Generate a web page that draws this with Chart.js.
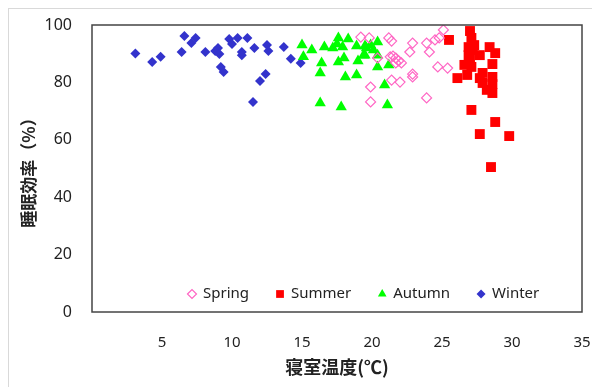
<!DOCTYPE html>
<html>
<head>
<meta charset="utf-8">
<script src="https://cdn.jsdelivr.net/npm/chart.js@4/dist/chart.umd.min.js"></script>
<style>
  body { margin: 0; background: #fff; }
  #wrap { position: relative; width: 592px; height: 387px; overflow: hidden; }
  #frame { position: absolute; left: 8px; top: 8px; width: 700px; height: 500px; border: 1px solid #d9d9d9; }
  #chart { position: absolute; left: 0; top: 0; }
</style>
</head>
<body>
<div id="wrap">
  <div id="frame"></div>
  <canvas id="chart" width="592" height="387"></canvas>
</div>
<script>
// 寝室温度 (x) と 睡眠効率 (y), 季節ごと
var springX = [19.2, 19.8, 21.2, 21.4, 22.9, 22.7, 21.3, 21.5, 21.7, 21.9, 22.1, 21.7, 20.4, 23.9, 24.1, 24.5, 24.8, 25.1, 24.7, 25.4, 22.9, 22.9, 22.0, 21.4, 19.9, 19.9, 23.9];
var springY = [95.8, 95.5, 95.5, 94.4, 93.7, 90.6, 88.9, 89.2, 88.5, 87.5, 86.8, 86.8, 88.5, 93.7, 90.6, 94.8, 95.5, 98.3, 85.4, 85.0, 82.9, 81.9, 80.1, 80.8, 78.4, 73.2, 74.6];

var summerX = [25.5, 27.0, 27.1, 26.9, 26.9, 27.0, 27.7, 28.4, 28.8, 28.6, 26.6, 27.1, 26.8, 26.1, 27.7, 28.6, 27.9, 28.2, 28.6, 28.6, 27.1, 28.8, 27.7, 29.8, 28.5, 27.2, 27.3, 27.9];
var summerY = [94.8, 97.9, 95.5, 92.3, 89.5, 88.5, 89.5, 92.3, 90.2, 86.4, 86.1, 85.4, 82.6, 81.5, 81.5, 81.9, 79.8, 77.4, 76.3, 79.4, 70.4, 66.2, 62.0, 61.3, 50.5, 91.3, 93.0, 83.3];

var autumnX = [15.0, 15.7, 15.1, 16.6, 16.4, 16.3, 17.2, 17.6, 17.6, 17.9, 18.3, 18.0, 18.1, 18.9, 18.9, 19.0, 19.4, 19.6, 19.5, 19.5, 19.9, 20.1, 20.4, 20.4, 20.4, 21.2, 20.9, 21.1, 16.3, 17.8, 17.5];
var autumnY = [93.0, 91.3, 88.9, 92.3, 86.8, 83.3, 92.0, 95.5, 87.1, 92.3, 95.1, 88.5, 81.9, 82.6, 92.7, 87.5, 89.5, 92.0, 92.7, 89.5, 93.0, 91.3, 94.1, 89.5, 85.4, 86.1, 79.1, 72.1, 72.8, 71.4, 93.4];

var winterX = [3.1, 4.3, 4.9, 6.6, 6.4, 7.1, 7.4, 8.1, 8.8, 9.0, 9.1, 9.2, 9.4, 9.8, 10.0, 10.4, 11.1, 10.7, 10.7, 11.6, 12.0, 12.4, 11.5, 12.5, 12.6, 13.7, 14.2, 14.9];
var winterY = [90.1, 87.1, 88.9, 96.2, 90.6, 93.7, 95.5, 90.6, 90.9, 92.0, 89.9, 85.4, 83.6, 95.1, 93.4, 95.5, 95.5, 90.6, 89.5, 92.0, 80.5, 82.9, 73.2, 93.0, 90.9, 92.3, 88.2, 86.8];

var xTicks = [0, 5, 10, 15, 20, 25, 30, 35];
var yTicks = [0, 20, 40, 60, 80, 100];

function pairs(xs, ys) {
  var out = [];
  for (var i = 0; i < xs.length; i++) out.push({x: xs[i], y: ys[i]});
  return out;
}

var datasets = [
  { label: 'Spring', data: pairs(springX, springY), pointStyle: 'rectRot', pointRadius: 5,
    backgroundColor: 'rgba(0,0,0,0)', borderColor: '#ff66c4', borderWidth: 1.2 },
  { label: 'Summer', data: pairs(summerX, summerY), pointStyle: 'rect', pointRadius: 7,
    backgroundColor: '#ff0000', borderColor: '#ff0000', borderWidth: 0 },
  { label: 'Autumn', data: pairs(autumnX, autumnY), pointStyle: 'triangle', pointRadius: 6.5,
    backgroundColor: '#00ff00', borderColor: '#00ff00', borderWidth: 0 },
  { label: 'Winter', data: pairs(winterX, winterY), pointStyle: 'rectRot', pointRadius: 5,
    backgroundColor: '#3333cc', borderColor: '#3333cc', borderWidth: 0 }
];

// plot frame + legend drawn inside the plot area
var framePlugin = {
  id: 'framePlugin',
  afterDatasetsDraw: function(chart) {
    var ctx = chart.ctx, a = chart.chartArea;
    ctx.save();
    ctx.strokeStyle = '#444';
    ctx.lineWidth = 1.5;
    ctx.strokeRect(a.left, a.top, a.right - a.left, a.bottom - a.top);
    ctx.restore();

    var x = 187, y = a.bottom - 18;
    chart.data.datasets.forEach(function(ds) {
      ctx.save();
      ctx.font = '15px "Noto Sans", sans-serif';
      ctx.textBaseline = 'middle';
      ctx.fillStyle = ds.backgroundColor;
      ctx.strokeStyle = ds.borderColor;
      ctx.lineWidth = ds.borderWidth;
      var r = ds.pointStyle === 'rect' ? 5.5 : (ds.pointStyle === 'triangle' ? 5 : 4.5);
      Chart.helpers.drawPoint(ctx, {
        pointStyle: ds.pointStyle, radius: r, borderWidth: ds.borderWidth, rotation: 0
      }, x + 5, y);
      ctx.fillStyle = '#222';
      ctx.fillText(ds.label, x + 16, y);
      x += 16 + ctx.measureText(ds.label).width + 26;
      ctx.restore();
    });
  }
};

var ctx = document.getElementById('chart');
var chart = new Chart(ctx, {
  type: 'scatter',
  data: { datasets: datasets },
  plugins: [framePlugin],
  options: {
    responsive: false,
    animation: false,
    events: [],
    layout: { padding: { top: 25, right: 10, left: 0, bottom: 0 } },
    plugins: {
      legend: { display: false },
      tooltip: { enabled: false }
    },
    scales: {
      x: {
        type: 'linear', min: 0, max: 35,
        afterBuildTicks: function(s) { s.ticks = xTicks.map(function(v) { return {value: v}; }); },
        afterFit: function(s) { s.height = 75; s.paddingLeft = 0; s.paddingRight = 0; },
        grid: { display: false },
        border: { display: false },
        ticks: {
          padding: 14,
          color: '#222',
          font: { family: '"Noto Sans", sans-serif', size: 15 },
          callback: function(v) { return v === 0 ? '' : v; }
        },
        title: {
          display: true, text: '寝室温度(℃)', color: '#222',
          font: { family: '"Noto Sans CJK JP", sans-serif', size: 18, weight: 'bold' },
          padding: { top: 0, bottom: 9 }
        }
      },
      y: {
        type: 'linear', min: 0, max: 100,
        afterBuildTicks: function(s) { s.ticks = yTicks.map(function(v) { return {value: v}; }); },
        afterFit: function(s) { s.width = 92; s.paddingTop = 0; s.paddingBottom = 0; },
        grid: { display: false },
        border: { display: false },
        ticks: {
          padding: 12,
          color: '#222',
          font: { family: '"Noto Sans", sans-serif', size: 16 }
        },
        title: {
          display: true, text: '睡眠効率（%）', color: '#222',
          font: { family: '"Noto Sans CJK JP", sans-serif', size: 17, weight: 'bold' },
          padding: { top: 18, bottom: 0 }
        }
      }
    }
  }
});
</script>
</body>
</html>
